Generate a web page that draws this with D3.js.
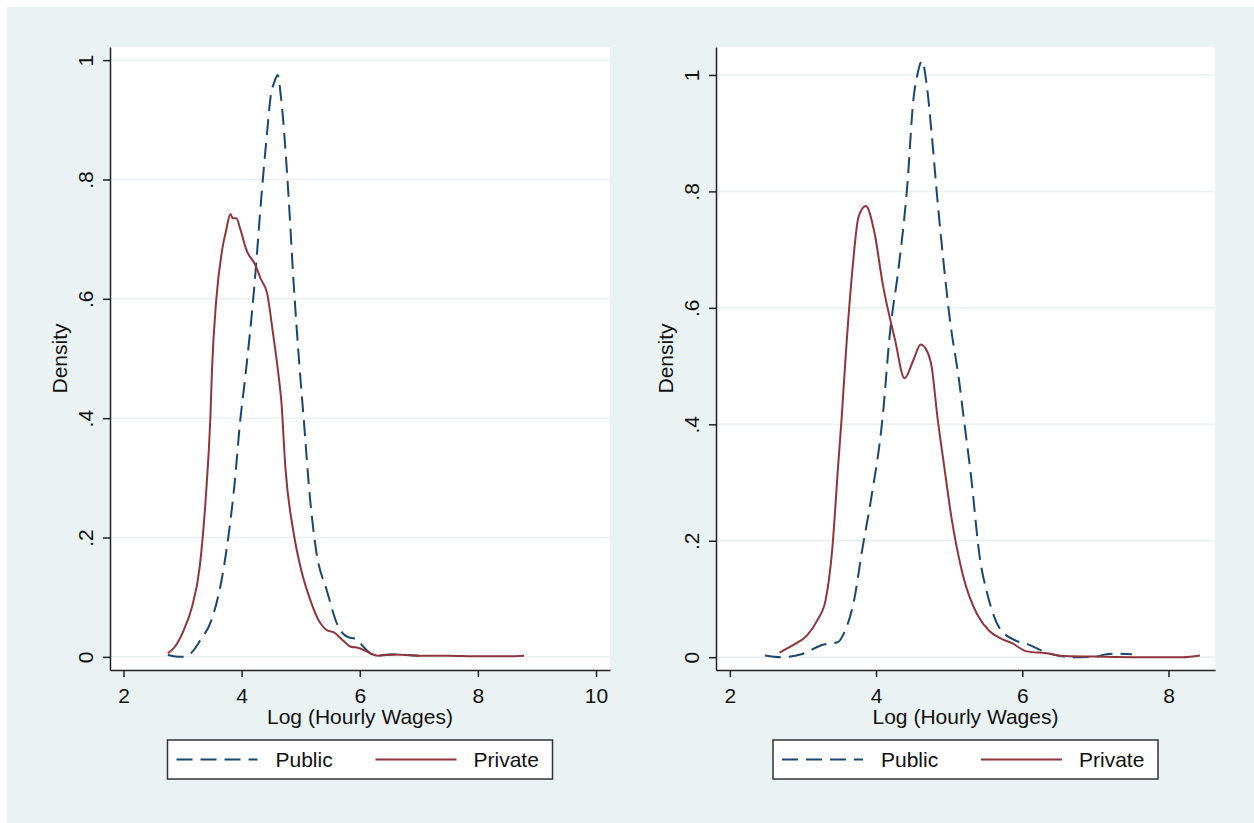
<!DOCTYPE html>
<html>
<head>
<meta charset="utf-8">
<script src="https://cdn.jsdelivr.net/npm/d3@7"></script>
<style>
  body { margin: 0; background: #fff; }
  text { font-family: "Liberation Sans", Arial, sans-serif; fill: #111; }
</style>
</head>
<body>
<svg id="chart" width="1254" height="823"></svg>
<script>
// tick values / labels
const leftXTicks = [2, 4, 6, 8, 10];
const rightXTicks = [2, 4, 6, 8];
const yTicks = [0, 0.2, 0.4, 0.6, 0.8, 1];
const yTickLabels = ["0", ".2", ".4", ".6", ".8", "1"];
const seriesNames = ["Public", "Private"];
const xTitle = "Log (Hourly Wages)";
const yTitle = "Density";

// left panel
const leftPublicX = [2.75, 2.85, 3.0, 3.16, 3.30, 3.49, 3.70, 3.88, 3.98, 4.05, 4.22, 4.33, 4.43, 4.50, 4.55, 4.61, 4.67, 4.78, 4.88, 4.98, 5.05, 5.16, 5.26, 5.44, 5.64, 5.75, 5.84, 5.95, 6.05, 6.27, 6.5, 6.8, 7.0];
const leftPublicY = [0.003, 0.001, 0.0, 0.008, 0.028, 0.062, 0.151, 0.29, 0.40, 0.459, 0.627, 0.766, 0.878, 0.945, 0.962, 0.975, 0.934, 0.794, 0.627, 0.486, 0.40, 0.263, 0.179, 0.112, 0.050, 0.036, 0.032, 0.030, 0.018, 0.002, 0.004, 0.003, 0.002];
const leftPrivateX = [2.75, 2.87, 3.02, 3.16, 3.29, 3.39, 3.47, 3.50, 3.57, 3.67, 3.74, 3.81, 3.85, 3.91, 3.98, 4.08, 4.23, 4.33, 4.43, 4.53, 4.64, 4.67, 4.74, 4.88, 5.02, 5.16, 5.30, 5.44, 5.58, 5.71, 5.85, 5.98, 6.12, 6.30, 6.6, 7.0, 7.5, 8.0, 8.5, 8.78];
const leftPrivateY = [0.006, 0.017, 0.045, 0.084, 0.151, 0.263, 0.40, 0.486, 0.598, 0.682, 0.716, 0.742, 0.735, 0.735, 0.716, 0.682, 0.657, 0.632, 0.610, 0.543, 0.459, 0.431, 0.318, 0.208, 0.141, 0.096, 0.062, 0.045, 0.040, 0.028, 0.017, 0.015, 0.009, 0.002, 0.004, 0.002, 0.002, 0.001, 0.001, 0.002];

// right panel
const rightPublicX = [2.48, 2.70, 2.98, 3.26, 3.48, 3.56, 3.70, 3.81, 3.93, 4.09, 4.19, 4.31, 4.43, 4.51, 4.56, 4.63, 4.69, 4.76, 4.84, 4.93, 5.01, 5.14, 5.19, 5.30, 5.42, 5.52, 5.69, 5.92, 6.08, 6.31, 6.52, 6.69, 7.0, 7.15, 7.3, 7.5];
const rightPublicY = [0.003, 0.0, 0.005, 0.021, 0.026, 0.041, 0.098, 0.184, 0.270, 0.412, 0.557, 0.670, 0.814, 0.957, 0.997, 1.024, 0.986, 0.90, 0.785, 0.670, 0.580, 0.471, 0.42, 0.31, 0.17, 0.11, 0.05, 0.028, 0.022, 0.009, 0.002, 0.0, 0.001, 0.005, 0.006, 0.005];
const rightPrivateX = [2.68, 2.87, 3.06, 3.20, 3.31, 3.40, 3.48, 3.53, 3.59, 3.68, 3.76, 3.86, 3.98, 4.09, 4.26, 4.39, 4.51, 4.61, 4.70, 4.76, 4.84, 4.93, 5.03, 5.19, 5.39, 5.55, 5.69, 5.86, 6.06, 6.31, 6.59, 7.0, 7.5, 8.0, 8.2, 8.43];
const rightPrivateY = [0.008, 0.021, 0.038, 0.064, 0.098, 0.184, 0.326, 0.412, 0.527, 0.670, 0.756, 0.775, 0.728, 0.642, 0.545, 0.479, 0.510, 0.537, 0.525, 0.499, 0.412, 0.33, 0.241, 0.140, 0.072, 0.045, 0.033, 0.024, 0.010, 0.007, 0.002, 0.001, 0.0, 0.0, 0.0, 0.003];

const colors = { Public: "#1a476f", Private: "#90353b" };
const dash = "16,8";

const zip = (xs, ys) => xs.map((x, i) => ({ x, y: ys[i] }));

const panels = [
    {
        left: 110, right: 610, top: 47, bottom: 670,
        xDomain: [1.771, 10.237], yDomain: [-0.022, 1.022], xTicks: leftXTicks,
        series: { Public: zip(leftPublicX, leftPublicY), Private: zip(leftPrivateX, leftPrivateY) }
    },
    {
        left: 716, right: 1215, top: 47, bottom: 670,
        xDomain: [1.811, 8.636], yDomain: [-0.022, 1.048], xTicks: rightXTicks,
        series: { Public: zip(rightPublicX, rightPublicY), Private: zip(rightPrivateX, rightPrivateY) }
    }
];

const svg = d3.select("#chart");

svg.append("rect")
    .attr("x", 7).attr("y", 7)
    .attr("width", 1254 - 7).attr("height", 823 - 7)
    .attr("fill", "#eaf2f3");

const renderPanel = (p) => {
    const xScale = d3.scaleLinear().domain(p.xDomain).range([p.left, p.right]);
    const yScale = d3.scaleLinear().domain(p.yDomain).range([p.bottom, p.top]);

    svg.append("rect")
        .attr("x", p.left).attr("y", p.top)
        .attr("width", p.right - p.left).attr("height", p.bottom - p.top)
        .attr("fill", "#fff");

    // grid
    svg.append("g").selectAll("line").data(yTicks)
        .enter().append("line")
        .attr("x1", p.left).attr("x2", p.right)
        .attr("y1", d => yScale(d)).attr("y2", d => yScale(d))
        .attr("stroke", "#eaf0f2")
        .attr("stroke-width", 1.5);

    const line = d3.line()
        .x(d => xScale(d.x))
        .y(d => yScale(d.y))
        .curve(d3.curveMonotoneX);

    seriesNames.forEach(name => {
        svg.append("path")
            .datum(p.series[name])
            .attr("d", line)
            .attr("fill", "none")
            .attr("stroke", colors[name])
            .attr("stroke-width", 2)
            .attr("stroke-dasharray", name === "Public" ? dash : null);
    });

    const yAxis = d3.axisLeft(yScale)
        .tickValues(yTicks)
        .tickFormat((d, i) => yTickLabels[i])
        .tickSize(7)
        .tickSizeOuter(0);

    const yAxisG = svg.append("g")
        .attr("transform", `translate(${p.left},0)`)
        .call(yAxis);
    yAxisG.selectAll("text")
        .attr("transform", "rotate(-90)")
        .attr("x", 0).attr("y", -17).attr("dy", 0)
        .attr("text-anchor", "middle")
        .style("font-size", "21px");

    const xAxis = d3.axisBottom(xScale)
        .tickValues(p.xTicks)
        .tickFormat(d3.format("d"))
        .tickSize(7)
        .tickSizeOuter(0)
        .tickPadding(11);

    const xAxisG = svg.append("g")
        .attr("transform", `translate(0,${p.bottom})`)
        .call(xAxis);
    xAxisG.selectAll("text").style("font-size", "21px");

    [yAxisG, xAxisG].forEach(g => {
        g.selectAll(".domain").attr("stroke", "#222").attr("stroke-width", 1.5);
        g.selectAll(".tick line").attr("stroke", "#222").attr("stroke-width", 1.5);
    });

    svg.append("text")
        .attr("transform", `translate(${p.left - 43},${(p.top + p.bottom) / 2}) rotate(-90)`)
        .attr("text-anchor", "middle")
        .style("font-size", "21px")
        .text(yTitle);

    svg.append("text")
        .attr("x", (p.left + p.right) / 2)
        .attr("y", 724)
        .attr("text-anchor", "middle")
        .style("font-size", "21px")
        .text(xTitle);

    // legend
    const lx = (p.left + p.right) / 2 - 192.5;
    const lg = svg.append("g").attr("transform", `translate(${lx},740)`);
    lg.append("rect")
        .attr("width", 385).attr("height", 39)
        .attr("fill", "#fff")
        .attr("stroke", "#333")
        .attr("stroke-width", 1.5);

    const items = [
        { name: "Public", x1: 9, x2: 90, tx: 108 },
        { name: "Private", x1: 208, x2: 289, tx: 306 }
    ];
    items.forEach(it => {
        lg.append("line")
            .attr("x1", it.x1).attr("x2", it.x2)
            .attr("y1", 19.5).attr("y2", 19.5)
            .attr("stroke", colors[it.name])
            .attr("stroke-width", 2)
            .attr("stroke-dasharray", it.name === "Public" ? dash : null);
        lg.append("text")
            .attr("x", it.tx).attr("y", 27)
            .style("font-size", "21px")
            .text(it.name);
    });
};

panels.forEach(renderPanel);
</script>
</body>
</html>
